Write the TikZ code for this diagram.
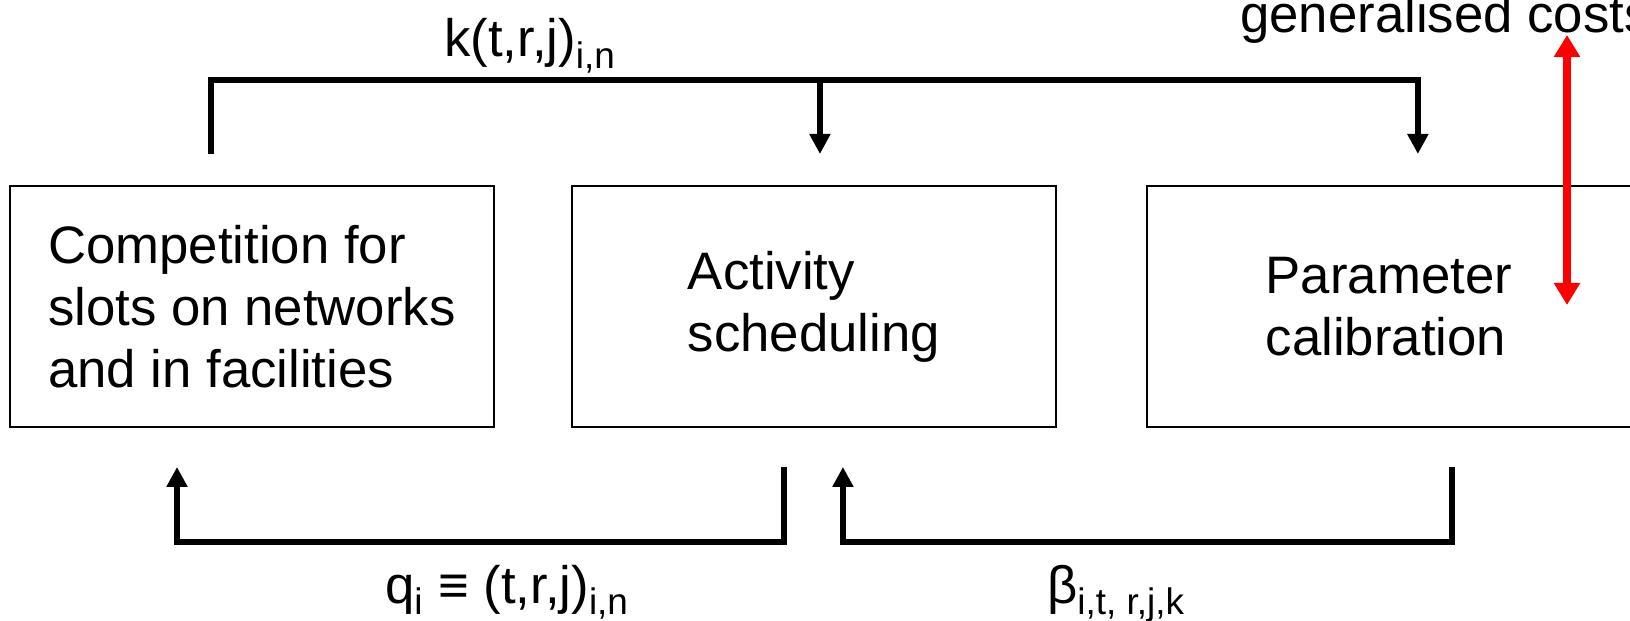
\documentclass[tikz,border=0pt]{standalone}
\usepackage{fontspec}
\setmainfont{Liberation Sans}
\usetikzlibrary{positioning,arrows.meta}

\begin{document}
\begin{tikzpicture}[
% first : the style of the scheme
    box/.style={
        rectangle,
        draw,
        line width=1.1pt,
        align=left,
        minimum width=9.68cm,
        minimum height=4.82cm,
        font=\fontsize{30}{35.3}\selectfont
    },
    flowlabel/.style={
        anchor=base,
        inner sep=0pt,
        font=\fontsize{30}{35.3}\selectfont
    },
    link/.style={line width=3.4pt},
    costarrow/.style={
        red,
        line width=4.2pt,
        {Triangle[length=0.44cm,width=0.5cm]}-{Triangle[length=0.44cm,width=0.5cm]}
    },
    >={Triangle[length=0.4cm,width=0.4cm]}
]
\useasboundingbox (0,0) rectangle (32.6,-12.42);

% the three steps
\node[box, anchor=north west] (comp) at (0.18,-3.70) {Competition for\\slots on networks\\and in facilities};
\node[box, right=1.52cm of comp] (sched) {Activity\\scheduling};
\node[box, right=1.78cm of sched] (calib) {Parameter\\calibration};

% ends of the links
\coordinate (kfrom) at ([xshift=4.04cm, yshift=0.62cm]comp.north west);
\coordinate (kbus) at ([yshift=1.48cm]kfrom);
\coordinate (kto2) at ([xshift=4.98cm, yshift=0.62cm]sched.north west);
\coordinate (kto3) at ([xshift=5.44cm, yshift=0.62cm]calib.north west);
\coordinate (qfrom) at ([xshift=4.26cm, yshift=-0.78cm]sched.south west);
\coordinate (qto) at ([xshift=3.36cm, yshift=-0.78cm]comp.south west);
\coordinate (bfrom) at ([xshift=6.12cm, yshift=-0.78cm]calib.south west);
\coordinate (bto) at ([xshift=5.44cm, yshift=-0.78cm]sched.south west);
\coordinate (gtop) at (31.34,-0.70);
\coordinate (gbot) at (31.34,-6.10);

% links
\draw[link, ->] (kfrom) -- (kbus) -| (kto3);
\draw[link, ->] (kbus -| kto2) -- (kto2);
\draw[link, ->] (qfrom) -- ++(0,-1.5) -| (qto);
\draw[link, ->] (bfrom) -- ++(0,-1.5) -| (bto);
\draw[costarrow] (gtop) -- (gbot);

% texts of the links
\node[flowlabel] (klabel) at (10.6,-1.14) {k(t,r,j)\textsubscript{i,n}};
\node[flowlabel] (qlabel) at (10.14,-12.06) {q\textsubscript{i} ≡ (t,r,j)\textsubscript{i,n}};
\node[flowlabel] (blabel) at (22.32,-12.06) {β\textsubscript{i,t, r,j,k}};
\node[flowlabel, anchor=base west] (gcost) at (24.8,-0.66) {generalised costs};

\end{tikzpicture}
\end{document}
